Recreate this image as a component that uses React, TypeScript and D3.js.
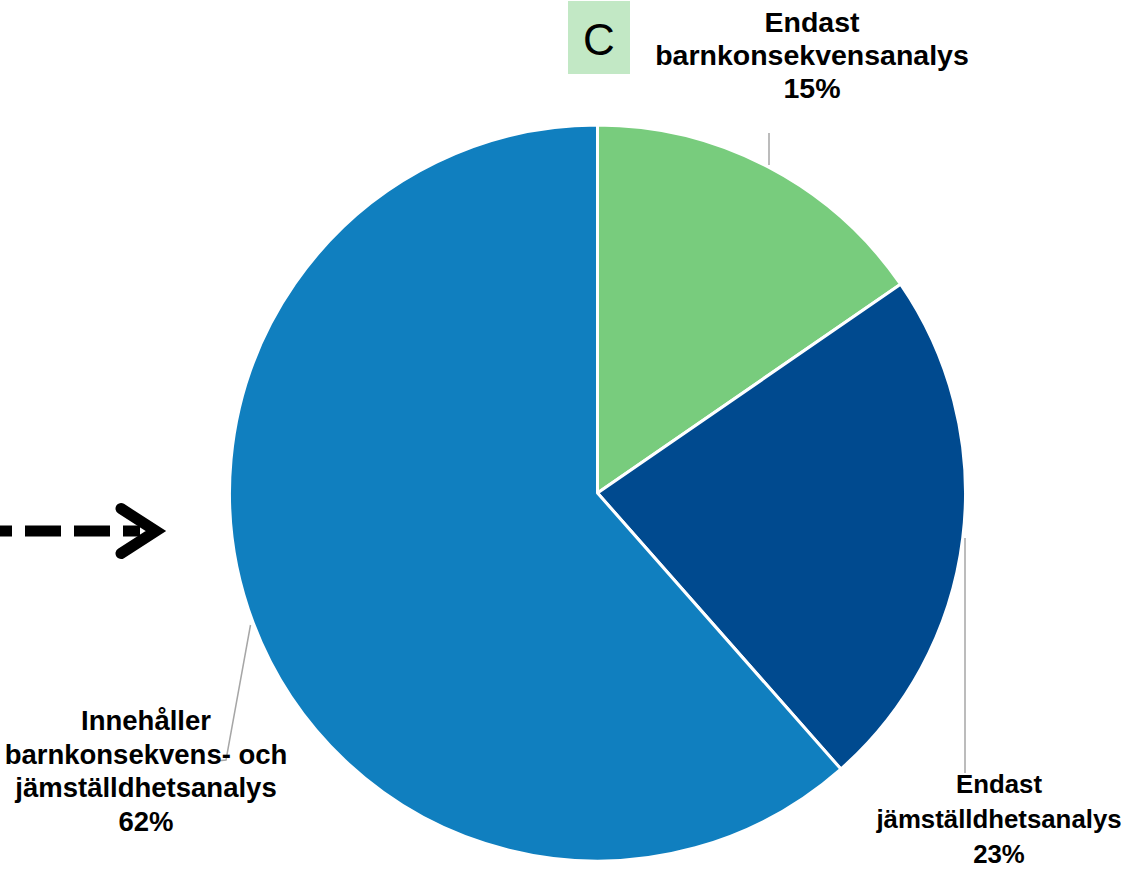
import React from "react";
import * as d3 from "d3";

const categories = [
  "Endast barnkonsekvensanalys",
  "Endast jämställdhetsanalys",
  "Innehåller barnkonsekvens- och jämställdhetsanalys",
];
const values = [15.4, 23.1, 61.5];
const colors = ["#78cc7d", "#004a8f", "#107fbf"];
const labelLines = [
  ["Endast", "barnkonsekvensanalys"],
  ["Endast", "jämställdhetsanalys"],
  ["Innehåller", "barnkonsekvens- och", "jämställdhetsanalys"],
];
const panelLetter = "C";

const W = 1127;
const H = 872;

export default function App() {
  const cx = 597.5;
  const cy = 493;
  const r = 368;
  const pie = d3.pie<number>().sort(null).startAngle(0).endAngle(2 * Math.PI);
  const arcs = pie(values);
  const arcGen = d3.arc<d3.PieArcDatum<number>>().innerRadius(0).outerRadius(r);
  const total = d3.sum(values);

  // label settings per slice
  const labelCfg = [
    { x: 812, y0: 32, lh: 33, fs: 28.5 },
    { x: 999, y0: 793, lh: 35, fs: 25.8 },
    { x: 146, y0: 730, lh: 33.7, fs: 27.5 },
  ];
  const leaders = [
    [[769, 133], [769, 165]],
    [[965, 538], [965, 773]],
    [[250.5, 625], [226, 760], [216, 761]],
  ];
  const line = d3.line();

  return (
    <svg
      width={W}
      height={H}
      style={{ position: "absolute", left: 0, top: 0, background: "#fff" }}
      fontFamily="'Liberation Sans', Arial, sans-serif"
    >
      {/* slices */}
      <g transform={`translate(${cx},${cy})`}>
        {arcs.map((a, i) => (
          <path
            key={categories[i]}
            d={arcGen(a) || ""}
            fill={colors[i]}
            stroke="#fff"
            strokeWidth={3}
            strokeLinejoin="round"
          />
        ))}
      </g>

      {/* leader lines */}
      {leaders.map((pts, i) => (
        <path
          key={"l" + i}
          d={line(pts as [number, number][]) || ""}
          fill="none"
          stroke="#a6a6a6"
          strokeWidth={1.5}
        />
      ))}

      {/* labels */}
      {labelLines.map((lines, i) => {
        const c = labelCfg[i];
        const pct = Math.round((values[i] / total) * 100) + "%";
        const all = [...lines, pct];
        return (
          <text
            key={"t" + i}
            textAnchor="middle"
            fontWeight="bold"
            fontSize={c.fs}
            fill="#000"
          >
            {all.map((s, j) => (
              <tspan key={j} x={c.x} y={c.y0 + j * c.lh}>
                {s}
              </tspan>
            ))}
          </text>
        );
      })}

      {/* panel letter box */}
      <rect x={568} y={1} width={62} height={73} fill="#c2e8c5" />
      <text x={599} y={55} textAnchor="middle" fontSize={44} fill="#000">
        {panelLetter}
      </text>

      {/* dashed arrow */}
      <line
        x1={0}
        y1={531}
        x2={140}
        y2={531}
        stroke="#000"
        strokeWidth={11}
        strokeDasharray="36 13"
        strokeDashoffset={24}
      />
      <polyline
        points="121,508.5 156,531 121,553.5"
        fill="none"
        stroke="#000"
        strokeWidth={11}
        strokeLinecap="round"
        strokeLinejoin="miter"
        strokeMiterlimit={10}
      />
    </svg>
  );
}
